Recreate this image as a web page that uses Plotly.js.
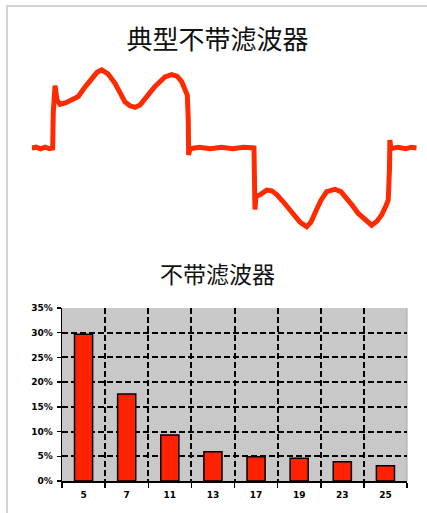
<!DOCTYPE html>
<html>
<head>
<meta charset="utf-8">
<script src="https://cdn.plot.ly/plotly-3.0.1.min.js"></script>
<style>html,body{margin:0;padding:0;background:#fff;}#chart{width:427px;height:513px;}</style>
</head>
<body>
<div id="chart"></div>
<script>
// Waveform of line current without filter (angle in degrees, current in A)
const waveAngle = [0, 4, 8, 12, 16, 18.8, 19.3, 20.9, 22.6, 25.3, 30.7, 36, 41.7, 47.7, 53.7, 58.5, 62.7, 68.3, 74.6, 79, 83.5, 88, 92.5, 97, 101.4, 105.9, 110.4, 114.9, 119.3, 125.3, 130.1, 134.3, 137.2, 139.3, 140.2, 140.5, 141.7, 150, 160, 170, 180, 190, 199, 199.5, 199.9, 200.8, 204.4, 210.4, 214.9, 219.6, 225.2, 229.5, 234.2, 240.2, 246.2, 250, 255.1, 259, 264.1, 271.5, 276.8, 281.9, 286.7, 292.4, 298.4, 304.4, 309.1, 313.3, 317.2, 319.2, 320.3, 320.7, 321.6, 328, 335, 340, 344.7];
const waveCurrent = [0, 1, -1, 1, -1, 0, 45, 80, 62, 56, 58, 62, 66, 78, 89, 97, 100, 95, 83, 72, 59, 54, 52, 55, 62, 71, 79, 86, 91, 94, 92, 85, 77, 68, 36, -9, -1, 1, -1, 1, -1, 1, 0, -43, -79, -62, -60, -54, -55, -60, -69, -77, -86, -95, -101, -95, -79, -67, -56, -53, -56, -64, -73, -84, -92, -99, -94, -86, -74, -67, -28, 10, -1, 1, -1, 1, 0];

// Harmonic content without filter
const harmonicOrders = ['5', '7', '11', '13', '17', '19', '23', '25'];
const harmonicContent = [0.297, 0.176, 0.093, 0.059, 0.049, 0.046, 0.039, 0.031];

const mainTitle = '典型不带滤波器';
const barTitle = '不带滤波器';

const cjk = '"Noto Sans CJK SC", "Noto Sans", sans-serif';
const tickFont = {family: '"DejaVu Sans", sans-serif', size: 9, color: '#000', weight: 'bold'};
const W = 427, H = 513;
const px = v => v / W;
const py = v => 1 - v / H;

const traces = [
  {
    x: waveAngle, y: waveCurrent, type: 'scatter', mode: 'lines',
    line: {color: '#ff2a00', width: 5, shape: 'linear'},
    xaxis: 'x', yaxis: 'y', hoverinfo: 'skip'
  },
  {
    x: harmonicOrders, y: harmonicContent, type: 'bar',
    marker: {color: '#ff2200', line: {color: '#000000', width: 1.5}},
    xaxis: 'x2', yaxis: 'y2', hoverinfo: 'skip'
  }
];

const layout = {
  width: W, height: H,
  margin: {l: 0, r: 0, t: 0, b: 0},
  paper_bgcolor: '#ffffff',
  plot_bgcolor: 'rgba(0,0,0,0)',
  showlegend: false,
  bargap: 0.58,
  title: {text: mainTitle, font: {family: cjk, size: 26, color: '#111'}, x: 217.5 / W, xanchor: 'center', y: py(40), yanchor: 'middle'},
  xaxis: {domain: [px(31.7), px(416.7)], range: [0, 344.7], visible: false, fixedrange: true},
  yaxis: {domain: [py(240), py(50)], range: [-118, 125.6], visible: false, fixedrange: true},
  xaxis2: {
    domain: [px(62), px(407)], anchor: 'y2', type: 'category',
    tickson: 'boundaries', ticks: 'outside', ticklen: 5, tickcolor: '#000', tickwidth: 1.5,
    showline: true, linecolor: '#000', linewidth: 1.5,
    showgrid: true, gridcolor: '#000', gridwidth: 2, griddash: '6px,3px',
    tickfont: tickFont, ticklabelstandoff: 5,
    fixedrange: true
  },
  yaxis2: {
    domain: [py(481), py(308)], anchor: 'x2', range: [0, 0.35], dtick: 0.05, tick0: 0,
    tickformat: '.0%', ticks: 'outside', ticklen: 4, tickcolor: '#000', tickwidth: 1.5,
    showline: true, linecolor: '#000', linewidth: 1.5,
    showgrid: true, gridcolor: '#000', gridwidth: 2, griddash: '6px,3px',
    zeroline: false,
    tickfont: tickFont, ticklabelstandoff: 2,
    fixedrange: true
  },
  annotations: [
    {text: barTitle, xref: 'paper', yref: 'paper', x: 217 / W, y: py(273), xanchor: 'center', yanchor: 'middle', showarrow: false, font: {family: cjk, size: 23, color: '#111'}}
  ],
  shapes: [
    {type: 'rect', xref: 'x2 domain', yref: 'y2 domain', x0: 0, x1: 1, y0: 0, y1: 1, layer: 'below', fillcolor: '#c8c8c8', line: {width: 0}},
    {type: 'line', xref: 'x2 domain', yref: 'y2 domain', x0: 1, x1: 1, y0: 0, y1: 1, layer: 'below', line: {color: '#a8a8a8', width: 1}},
    {type: 'line', xref: 'paper', yref: 'paper', x0: px(7), x1: px(7), y0: 0, y1: py(5), line: {color: '#d2d2d2', width: 2}},
    {type: 'line', xref: 'paper', yref: 'paper', x0: px(7), x1: 1, y0: py(6), y1: py(6), line: {color: '#d2d2d2', width: 2}}
  ]
};

Plotly.newPlot('chart', traces, layout, {staticPlot: true, displayModeBar: false});
</script>
</body>
</html>
